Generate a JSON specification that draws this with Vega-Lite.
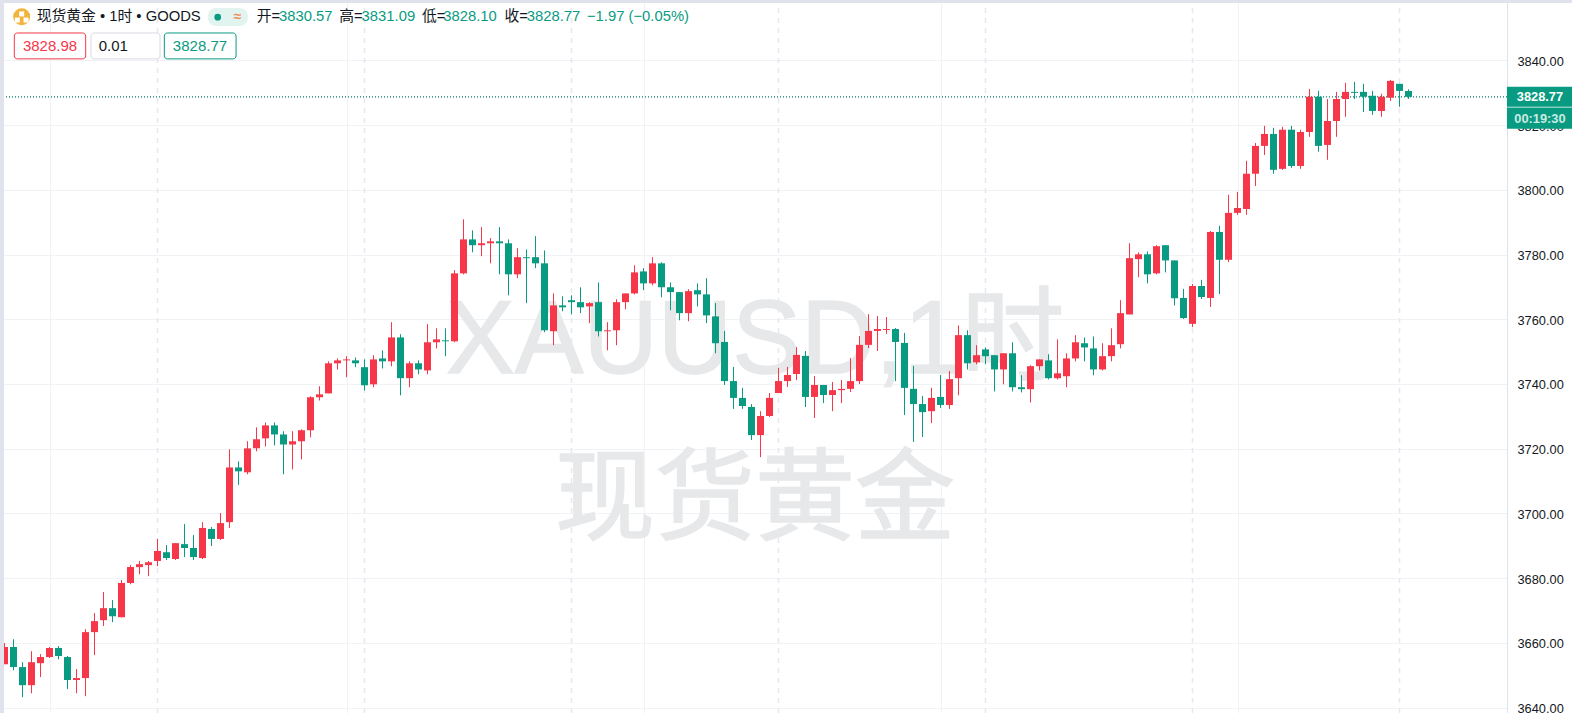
{"$schema":"https://vega.github.io/schema/vega-lite/v6.json","width":1507,"height":713,"autosize":"none","padding":{"left":0,"top":0,"right":65,"bottom":0},"background":"white","config":{"view":{"stroke":null}},
"datasets":{
"candles":[
{"i":0,"o":3653.4,"h":3659.9,"l":3653.4,"c":3658.7,"d":"up"},
{"i":1,"o":3658.7,"h":3661.1,"l":3651.5,"c":3652.5,"d":"down"},
{"i":2,"o":3652.5,"h":3654.0,"l":3643.2,"c":3646.9,"d":"down"},
{"i":3,"o":3646.9,"h":3657.4,"l":3644.4,"c":3654.0,"d":"up"},
{"i":4,"o":3653.7,"h":3656.5,"l":3649.4,"c":3655.6,"d":"up"},
{"i":5,"o":3655.6,"h":3658.7,"l":3655.3,"c":3658.4,"d":"up"},
{"i":6,"o":3658.4,"h":3659.0,"l":3654.9,"c":3655.9,"d":"down"},
{"i":7,"o":3655.6,"h":3655.9,"l":3645.7,"c":3648.5,"d":"down"},
{"i":8,"o":3648.5,"h":3651.9,"l":3644.4,"c":3649.1,"d":"up"},
{"i":9,"o":3649.1,"h":3664.2,"l":3643.5,"c":3663.3,"d":"up"},
{"i":10,"o":3663.3,"h":3669.2,"l":3656.2,"c":3666.7,"d":"up"},
{"i":11,"o":3667.0,"h":3675.7,"l":3665.2,"c":3670.7,"d":"up"},
{"i":12,"o":3670.7,"h":3673.2,"l":3666.4,"c":3668.2,"d":"down"},
{"i":13,"o":3667.9,"h":3679.4,"l":3667.9,"c":3678.5,"d":"up"},
{"i":14,"o":3678.5,"h":3684.0,"l":3678.1,"c":3683.4,"d":"up"},
{"i":15,"o":3683.4,"h":3685.3,"l":3681.2,"c":3684.3,"d":"up"},
{"i":16,"o":3684.0,"h":3685.3,"l":3680.6,"c":3684.9,"d":"up"},
{"i":17,"o":3685.3,"h":3692.1,"l":3683.7,"c":3688.4,"d":"up"},
{"i":18,"o":3688.0,"h":3690.2,"l":3685.6,"c":3686.2,"d":"down"},
{"i":19,"o":3685.9,"h":3690.8,"l":3685.6,"c":3690.8,"d":"up"},
{"i":20,"o":3690.5,"h":3696.7,"l":3686.5,"c":3689.3,"d":"down"},
{"i":21,"o":3689.3,"h":3693.3,"l":3685.6,"c":3686.5,"d":"down"},
{"i":22,"o":3686.2,"h":3697.3,"l":3685.9,"c":3695.5,"d":"up"},
{"i":23,"o":3695.2,"h":3695.8,"l":3689.9,"c":3692.1,"d":"down"},
{"i":24,"o":3692.1,"h":3700.1,"l":3691.8,"c":3697.0,"d":"up"},
{"i":25,"o":3697.3,"h":3719.8,"l":3695.5,"c":3714.2,"d":"up"},
{"i":26,"o":3714.2,"h":3716.1,"l":3708.8,"c":3713.0,"d":"down"},
{"i":27,"o":3712.7,"h":3722.3,"l":3712.1,"c":3720.1,"d":"up"},
{"i":28,"o":3720.1,"h":3726.6,"l":3719.2,"c":3722.9,"d":"up"},
{"i":29,"o":3723.2,"h":3728.1,"l":3720.7,"c":3727.2,"d":"up"},
{"i":30,"o":3727.2,"h":3728.1,"l":3721.0,"c":3724.4,"d":"down"},
{"i":31,"o":3724.4,"h":3725.4,"l":3712.1,"c":3721.3,"d":"down"},
{"i":32,"o":3721.3,"h":3725.4,"l":3713.6,"c":3722.3,"d":"up"},
{"i":33,"o":3722.3,"h":3726.0,"l":3716.7,"c":3725.7,"d":"up"},
{"i":34,"o":3725.7,"h":3736.2,"l":3723.5,"c":3735.9,"d":"up"},
{"i":35,"o":3735.9,"h":3739.3,"l":3734.9,"c":3736.8,"d":"up"},
{"i":36,"o":3737.1,"h":3747.0,"l":3737.1,"c":3746.4,"d":"up"},
{"i":37,"o":3746.4,"h":3747.9,"l":3744.5,"c":3747.3,"d":"up"},
{"i":38,"o":3747.3,"h":3748.6,"l":3742.1,"c":3747.6,"d":"up"},
{"i":39,"o":3747.3,"h":3748.2,"l":3745.2,"c":3746.4,"d":"down"},
{"i":40,"o":3745.2,"h":3747.6,"l":3738.0,"c":3739.6,"d":"down"},
{"i":41,"o":3739.9,"h":3748.9,"l":3739.0,"c":3747.6,"d":"up"},
{"i":42,"o":3747.9,"h":3750.4,"l":3744.8,"c":3747.0,"d":"down"},
{"i":43,"o":3747.0,"h":3759.1,"l":3745.5,"c":3754.4,"d":"up"},
{"i":44,"o":3754.4,"h":3755.4,"l":3736.5,"c":3741.8,"d":"down"},
{"i":45,"o":3741.8,"h":3747.0,"l":3739.0,"c":3746.4,"d":"up"},
{"i":46,"o":3746.4,"h":3747.3,"l":3743.0,"c":3744.5,"d":"down"},
{"i":47,"o":3744.2,"h":3758.5,"l":3743.0,"c":3752.9,"d":"up"},
{"i":48,"o":3752.9,"h":3757.2,"l":3751.0,"c":3753.8,"d":"up"},
{"i":49,"o":3753.5,"h":3757.2,"l":3748.6,"c":3753.2,"d":"down"},
{"i":50,"o":3753.2,"h":3775.2,"l":3752.9,"c":3774.2,"d":"up"},
{"i":51,"o":3774.2,"h":3790.9,"l":3773.9,"c":3784.7,"d":"up"},
{"i":52,"o":3784.7,"h":3787.5,"l":3780.7,"c":3782.9,"d":"down"},
{"i":53,"o":3782.9,"h":3788.5,"l":3779.5,"c":3783.5,"d":"up"},
{"i":54,"o":3783.5,"h":3785.1,"l":3777.3,"c":3784.1,"d":"up"},
{"i":55,"o":3784.1,"h":3788.5,"l":3773.9,"c":3783.5,"d":"down"},
{"i":56,"o":3783.5,"h":3784.7,"l":3767.4,"c":3773.9,"d":"down"},
{"i":57,"o":3773.9,"h":3782.0,"l":3772.7,"c":3779.2,"d":"up"},
{"i":58,"o":3779.2,"h":3781.6,"l":3765.0,"c":3778.9,"d":"down"},
{"i":59,"o":3779.2,"h":3785.7,"l":3775.8,"c":3777.3,"d":"down"},
{"i":60,"o":3777.3,"h":3781.3,"l":3756.0,"c":3756.6,"d":"down"},
{"i":61,"o":3756.3,"h":3768.0,"l":3752.0,"c":3764.3,"d":"up"},
{"i":62,"o":3764.3,"h":3767.1,"l":3762.5,"c":3763.7,"d":"down"},
{"i":63,"o":3765.9,"h":3767.4,"l":3761.5,"c":3765.3,"d":"down"},
{"i":64,"o":3765.3,"h":3769.9,"l":3761.9,"c":3763.7,"d":"down"},
{"i":65,"o":3764.0,"h":3765.3,"l":3758.8,"c":3765.0,"d":"up"},
{"i":66,"o":3765.3,"h":3771.4,"l":3754.7,"c":3756.3,"d":"down"},
{"i":67,"o":3756.3,"h":3759.1,"l":3750.4,"c":3756.6,"d":"up"},
{"i":68,"o":3756.6,"h":3766.2,"l":3752.0,"c":3765.3,"d":"up"},
{"i":69,"o":3765.3,"h":3768.0,"l":3763.1,"c":3768.0,"d":"up"},
{"i":70,"o":3768.0,"h":3776.7,"l":3767.7,"c":3774.5,"d":"up"},
{"i":71,"o":3774.8,"h":3775.8,"l":3769.0,"c":3771.1,"d":"down"},
{"i":72,"o":3771.1,"h":3779.2,"l":3770.5,"c":3777.3,"d":"up"},
{"i":73,"o":3777.3,"h":3777.6,"l":3766.8,"c":3769.9,"d":"down"},
{"i":74,"o":3769.9,"h":3771.4,"l":3762.8,"c":3768.4,"d":"down"},
{"i":75,"o":3768.4,"h":3768.4,"l":3759.7,"c":3761.9,"d":"down"},
{"i":76,"o":3761.9,"h":3769.3,"l":3759.4,"c":3768.7,"d":"up"},
{"i":77,"o":3769.0,"h":3771.1,"l":3764.0,"c":3767.7,"d":"down"},
{"i":78,"o":3767.7,"h":3772.7,"l":3758.8,"c":3761.2,"d":"down"},
{"i":79,"o":3760.9,"h":3765.0,"l":3749.5,"c":3752.6,"d":"down"},
{"i":80,"o":3753.0,"h":3756.4,"l":3739.7,"c":3740.9,"d":"down"},
{"i":81,"o":3740.9,"h":3745.3,"l":3732.3,"c":3735.7,"d":"down"},
{"i":82,"o":3735.7,"h":3738.8,"l":3732.3,"c":3733.2,"d":"down"},
{"i":83,"o":3732.9,"h":3733.8,"l":3722.7,"c":3724.2,"d":"down"},
{"i":84,"o":3724.2,"h":3731.6,"l":3717.4,"c":3730.1,"d":"up"},
{"i":85,"o":3730.1,"h":3737.2,"l":3729.8,"c":3735.7,"d":"up"},
{"i":86,"o":3737.2,"h":3745.0,"l":3737.2,"c":3740.9,"d":"up"},
{"i":87,"o":3740.9,"h":3745.3,"l":3739.1,"c":3742.8,"d":"up"},
{"i":88,"o":3743.1,"h":3751.4,"l":3741.2,"c":3749.0,"d":"up"},
{"i":89,"o":3748.7,"h":3750.2,"l":3732.9,"c":3736.0,"d":"down"},
{"i":90,"o":3736.0,"h":3742.5,"l":3729.5,"c":3739.7,"d":"up"},
{"i":91,"o":3739.7,"h":3739.7,"l":3734.1,"c":3736.6,"d":"down"},
{"i":92,"o":3736.6,"h":3740.6,"l":3731.6,"c":3738.1,"d":"up"},
{"i":93,"o":3738.1,"h":3741.2,"l":3734.1,"c":3738.5,"d":"up"},
{"i":94,"o":3738.5,"h":3748.0,"l":3737.5,"c":3740.9,"d":"up"},
{"i":95,"o":3740.9,"h":3754.8,"l":3740.0,"c":3752.1,"d":"up"},
{"i":96,"o":3752.1,"h":3761.6,"l":3751.1,"c":3756.4,"d":"up"},
{"i":97,"o":3756.4,"h":3761.0,"l":3750.2,"c":3757.0,"d":"up"},
{"i":98,"o":3756.7,"h":3760.7,"l":3755.5,"c":3757.0,"d":"up"},
{"i":99,"o":3757.0,"h":3757.3,"l":3740.9,"c":3753.0,"d":"down"},
{"i":100,"o":3752.7,"h":3755.8,"l":3730.4,"c":3738.8,"d":"down"},
{"i":101,"o":3738.5,"h":3745.6,"l":3722.1,"c":3733.8,"d":"down"},
{"i":102,"o":3733.8,"h":3736.3,"l":3723.6,"c":3731.3,"d":"down"},
{"i":103,"o":3731.6,"h":3738.8,"l":3727.9,"c":3735.7,"d":"up"},
{"i":104,"o":3736.0,"h":3742.8,"l":3732.6,"c":3733.5,"d":"down"},
{"i":105,"o":3733.5,"h":3744.0,"l":3732.3,"c":3741.5,"d":"up"},
{"i":106,"o":3741.8,"h":3758.1,"l":3736.5,"c":3755.1,"d":"up"},
{"i":107,"o":3755.1,"h":3756.6,"l":3744.5,"c":3746.4,"d":"down"},
{"i":108,"o":3746.7,"h":3752.0,"l":3746.1,"c":3748.9,"d":"up"},
{"i":109,"o":3750.7,"h":3751.3,"l":3746.1,"c":3748.6,"d":"down"},
{"i":110,"o":3748.9,"h":3748.9,"l":3737.7,"c":3744.5,"d":"down"},
{"i":111,"o":3744.5,"h":3749.5,"l":3739.9,"c":3749.5,"d":"up"},
{"i":112,"o":3749.5,"h":3752.9,"l":3737.7,"c":3739.0,"d":"down"},
{"i":113,"o":3739.0,"h":3742.7,"l":3737.4,"c":3738.4,"d":"down"},
{"i":114,"o":3738.4,"h":3745.8,"l":3734.3,"c":3745.5,"d":"up"},
{"i":115,"o":3745.5,"h":3747.6,"l":3744.2,"c":3747.6,"d":"up"},
{"i":116,"o":3747.3,"h":3749.2,"l":3741.4,"c":3741.8,"d":"down"},
{"i":117,"o":3741.8,"h":3753.8,"l":3741.4,"c":3743.3,"d":"up"},
{"i":118,"o":3742.4,"h":3749.5,"l":3739.0,"c":3747.9,"d":"up"},
{"i":119,"o":3747.9,"h":3755.1,"l":3747.0,"c":3752.9,"d":"up"},
{"i":120,"o":3752.6,"h":3754.4,"l":3747.0,"c":3751.3,"d":"down"},
{"i":121,"o":3751.0,"h":3754.7,"l":3742.7,"c":3744.5,"d":"down"},
{"i":122,"o":3744.5,"h":3752.6,"l":3744.2,"c":3748.6,"d":"up"},
{"i":123,"o":3748.6,"h":3757.2,"l":3747.0,"c":3752.0,"d":"up"},
{"i":124,"o":3752.3,"h":3765.9,"l":3751.0,"c":3761.9,"d":"up"},
{"i":125,"o":3761.5,"h":3783.5,"l":3761.5,"c":3778.9,"d":"up"},
{"i":126,"o":3778.6,"h":3780.7,"l":3773.0,"c":3780.1,"d":"up"},
{"i":127,"o":3780.1,"h":3781.0,"l":3771.1,"c":3773.9,"d":"down"},
{"i":128,"o":3774.2,"h":3782.9,"l":3773.9,"c":3782.6,"d":"up"},
{"i":129,"o":3782.9,"h":3782.9,"l":3774.5,"c":3778.2,"d":"down"},
{"i":130,"o":3778.2,"h":3778.2,"l":3764.3,"c":3766.5,"d":"down"},
{"i":131,"o":3766.6,"h":3769.4,"l":3760.1,"c":3760.4,"d":"down"},
{"i":132,"o":3758.6,"h":3770.9,"l":3757.6,"c":3770.3,"d":"up"},
{"i":133,"o":3770.3,"h":3772.2,"l":3766.3,"c":3766.9,"d":"down"},
{"i":134,"o":3766.6,"h":3787.3,"l":3763.8,"c":3787.0,"d":"up"},
{"i":135,"o":3787.0,"h":3788.9,"l":3767.8,"c":3778.4,"d":"down"},
{"i":136,"o":3778.4,"h":3798.5,"l":3777.7,"c":3792.9,"d":"up"},
{"i":137,"o":3792.9,"h":3799.4,"l":3792.3,"c":3794.4,"d":"up"},
{"i":138,"o":3794.1,"h":3809.0,"l":3792.3,"c":3805.0,"d":"up"},
{"i":139,"o":3805.0,"h":3814.5,"l":3801.2,"c":3813.6,"d":"up"},
{"i":140,"o":3813.6,"h":3819.8,"l":3810.8,"c":3817.3,"d":"up"},
{"i":141,"o":3817.3,"h":3819.2,"l":3805.0,"c":3806.2,"d":"down"},
{"i":142,"o":3806.5,"h":3819.5,"l":3806.2,"c":3818.6,"d":"up"},
{"i":143,"o":3818.6,"h":3819.8,"l":3806.8,"c":3807.4,"d":"down"},
{"i":144,"o":3807.4,"h":3818.6,"l":3806.5,"c":3817.9,"d":"up"},
{"i":145,"o":3817.9,"h":3831.2,"l":3816.4,"c":3828.8,"d":"up"},
{"i":146,"o":3828.8,"h":3830.6,"l":3811.8,"c":3813.6,"d":"down"},
{"i":147,"o":3813.9,"h":3828.1,"l":3809.3,"c":3821.3,"d":"up"},
{"i":148,"o":3821.3,"h":3830.3,"l":3816.4,"c":3828.1,"d":"up"},
{"i":149,"o":3828.1,"h":3833.1,"l":3822.6,"c":3830.3,"d":"up"},
{"i":150,"o":3830.3,"h":3833.4,"l":3828.1,"c":3830.0,"d":"down"},
{"i":151,"o":3830.3,"h":3832.8,"l":3824.1,"c":3828.8,"d":"down"},
{"i":152,"o":3829.1,"h":3830.6,"l":3823.2,"c":3824.4,"d":"down"},
{"i":153,"o":3824.4,"h":3829.7,"l":3822.6,"c":3828.8,"d":"up"},
{"i":154,"o":3828.5,"h":3834.0,"l":3827.5,"c":3833.7,"d":"up"},
{"i":155,"o":3832.8,"h":3832.8,"l":3825.7,"c":3830.6,"d":"down"},
{"i":156,"o":3830.57,"h":3831.09,"l":3828.10,"c":3828.77,"d":"down"}
],
"session":[{"i":17},{"i":40},{"i":63},{"i":86},{"i":109},{"i":132},{"i":155}],
"last":[{"p":3828.77}],
"watermark":[{"i":83.4,"p":3753.0,"t":"XAUUSD,1时"}],
"watermark2":[{"i":83.4,"p":3703.5,"t":"现货黄金"}],
"header":[
{"i":3.57,"p":3853.4,"t":"现货黄金 • 1时 • GOODS","r":"ink"},
{"i":28.02,"p":3853.4,"t":"开=","r":"ink"},{"i":30.5,"p":3853.4,"t":"3830.57","r":"down"},
{"i":37.2,"p":3853.4,"t":"高=","r":"ink"},{"i":39.68,"p":3853.4,"t":"3831.09","r":"down"},
{"i":46.38,"p":3853.4,"t":"低=","r":"ink"},{"i":48.75,"p":3853.4,"t":"3828.10","r":"down"},
{"i":55.56,"p":3853.4,"t":"收=","r":"ink"},{"i":58.03,"p":3853.4,"t":"3828.77","r":"down"},
{"i":64.72,"p":3853.4,"t":"−1.97 (−0.05%)","r":"down"}
],
"boxes":[
{"a":1.09,"b":9.02,"hi":3848.5,"lo":3840.5,"r":"up"},
{"a":9.61,"b":17.28,"hi":3848.5,"lo":3840.5,"r":"muted"},
{"a":17.76,"b":25.73,"hi":3848.5,"lo":3840.5,"r":"down"}
],
"boxText":[
{"i":5.06,"p":3844.4,"t":"3828.98","r":"up"},
{"i":12.09,"p":3844.4,"t":"0.01","r":"ink"},
{"i":21.72,"p":3844.4,"t":"3828.77","r":"down"}
],
"pill":[{"a":22.61,"b":27.03,"hi":3856.2,"lo":3850.7}],
"dots":[{"i":23.69,"p":3853.4,"r":"down"}],
"icon":[{"i":1.91,"p":3853.5}],
"iconBars":[{"i":1.42,"p":3852.5},{"i":2.39,"p":3852.5},{"i":1.91,"p":3854.4}],
"approx":[{"i":25.91,"p":3853.4,"t":"≈"}],
"tag":[{"a":166.94,"b":174.2,"hi":3831.9,"lo":3825.7},{"a":166.94,"b":174.2,"hi":3825.5,"lo":3818.9}],
"band":[{"a":166.94,"b":174.2,"hi":3859.0,"lo":3857.8}],
"tagText":[{"i":170.6,"p":3828.7,"t":"3828.77","r":"white"},{"i":170.6,"p":3822.0,"t":"00:19:30","r":"faint"}]
},
"layer":[
{"data":{"name":"session"},"mark":{"type":"rule","stroke":"#e6e8ef","strokeDash":[5,5],"strokeWidth":1.5},
"encoding":{
"x":{"field":"i","type":"quantitative","scale":{"domain":[-0.5,166.944],"nice":false,"zero":false,"padding":0},"axis":{"orient":"bottom","values":[5,38,71,104,137],"grid":true,"gridColor":"#f1f2f6","gridWidth":1,"labels":false,"ticks":false,"domain":false,"title":null}},
"y":{"datum":3638.3,"type":"quantitative","scale":{"domain":[3638.3,3858.7],"nice":false,"zero":false},"axis":{"orient":"right","values":[3640,3660,3680,3700,3720,3740,3760,3780,3800,3820,3840],"format":".2f","grid":true,"gridColor":"#f1f2f6","gridWidth":1,"ticks":false,"domain":true,"domainColor":"#e0e3eb","domainWidth":1,"labelFont":"Liberation Sans","labelFontSize":12.8,"labelColor":"#131722","labelPadding":10,"labelOffset":1,"title":null}},
"y2":{"datum":3858.7}}},
{"data":{"name":"watermark"},"mark":{"type":"text","font":"Liberation Sans, Noto Sans CJK SC","fontSize":103,"align":"center","baseline":"middle","fill":"#e7e8ea","stroke":"#e7e8ea","strokeWidth":1.5},
"encoding":{"x":{"field":"i","type":"quantitative","axis":{"orient":"top","labels":false,"ticks":false,"grid":false,"title":null,"domain":true,"domainColor":"#e0e3eb","domainWidth":5,"zindex":1}},"y":{"field":"p","type":"quantitative","axis":{"orient":"left","labels":false,"ticks":false,"grid":false,"title":null,"domain":true,"domainColor":"#e0e3eb","domainWidth":7,"zindex":1}},"text":{"field":"t"}}},
{"data":{"name":"watermark2"},"mark":{"type":"text","font":"Liberation Sans, Noto Sans CJK SC","fontSize":100,"align":"center","baseline":"middle","fill":"#e7e8ea","stroke":"#e7e8ea","strokeWidth":1.5},
"encoding":{"x":{"field":"i","type":"quantitative","axis":null},"y":{"field":"p","type":"quantitative","axis":null},"text":{"field":"t"}}},
{"data":{"name":"last"},"mark":{"type":"rule","stroke":"#067a66","strokeDash":[1,2],"strokeWidth":1.3},"encoding":{"y":{"field":"p","type":"quantitative","axis":null}}},
{"data":{"name":"candles"},"mark":{"type":"rule","strokeWidth":1},"encoding":{"x":{"field":"i","type":"quantitative","axis":null},"y":{"field":"l","type":"quantitative","axis":null},"y2":{"field":"h"},"color":{"field":"d","type":"nominal","legend":null,"scale":{"domain":["up","down","ink","muted","white","faint"],"range":["#f63649","#099b81","#131722","#d9dae3","#ffffff","#c9ebe3"]}}}},
{"data":{"name":"candles"},"mark":{"type":"bar","size":7},"encoding":{"x":{"field":"i","type":"quantitative","axis":null},"y":{"field":"o","type":"quantitative","axis":null},"y2":{"field":"c"},"color":{"field":"d","type":"nominal","legend":null}}},
{"data":{"name":"band"},"mark":{"type":"rect","fill":"#e0e3eb"},"encoding":{"x":{"field":"a","type":"quantitative","axis":null},"x2":{"field":"b"},"y":{"field":"lo","type":"quantitative","axis":null},"y2":{"field":"hi"}}},
{"data":{"name":"tag"},"mark":{"type":"rect","fill":"#099b81"},"encoding":{"x":{"field":"a","type":"quantitative","axis":null},"x2":{"field":"b"},"y":{"field":"lo","type":"quantitative","axis":null},"y2":{"field":"hi"}}},
{"data":{"name":"tagText"},"mark":{"type":"text","font":"Liberation Sans","fontSize":12.8,"fontWeight":"bold","align":"center","baseline":"middle"},"encoding":{"x":{"field":"i","type":"quantitative","axis":null},"y":{"field":"p","type":"quantitative","axis":null},"text":{"field":"t"},"color":{"field":"r","type":"nominal","legend":null}}},
{"data":{"name":"boxes"},"mark":{"type":"rect","fill":"#ffffff","cornerRadius":3,"strokeWidth":1},"encoding":{"x":{"field":"a","type":"quantitative","axis":null},"x2":{"field":"b"},"y":{"field":"lo","type":"quantitative","axis":null},"y2":{"field":"hi"},"stroke":{"field":"r","type":"nominal","legend":null,"scale":{"domain":["up","down","ink","muted","white","faint"],"range":["#f63649","#099b81","#131722","#d9dae3","#ffffff","#c9ebe3"]}}}},
{"data":{"name":"boxText"},"mark":{"type":"text","font":"Liberation Sans","fontSize":15,"align":"center","baseline":"middle"},"encoding":{"x":{"field":"i","type":"quantitative","axis":null},"y":{"field":"p","type":"quantitative","axis":null},"text":{"field":"t"},"color":{"field":"r","type":"nominal","legend":null}}},
{"data":{"name":"header"},"mark":{"type":"text","font":"Liberation Sans, Noto Sans CJK SC","fontSize":14.8,"align":"left","baseline":"middle"},"encoding":{"x":{"field":"i","type":"quantitative","axis":null},"y":{"field":"p","type":"quantitative","axis":null},"text":{"field":"t"},"color":{"field":"r","type":"nominal","legend":null}}},
{"data":{"name":"pill"},"mark":{"type":"rect","fill":"#e1f4f0","cornerRadius":8},"encoding":{"x":{"field":"a","type":"quantitative","axis":null},"x2":{"field":"b"},"y":{"field":"lo","type":"quantitative","axis":null},"y2":{"field":"hi"}}},
{"data":{"name":"dots"},"mark":{"type":"point","filled":true,"size":45,"opacity":1,"shape":"circle"},"encoding":{"x":{"field":"i","type":"quantitative","axis":null},"y":{"field":"p","type":"quantitative","axis":null},"color":{"field":"r","type":"nominal","legend":null}}},
{"data":{"name":"approx"},"mark":{"type":"text","font":"Liberation Sans","fontSize":14,"fontWeight":"bold","align":"center","baseline":"middle","fill":"#f58a5a"},"encoding":{"x":{"field":"i","type":"quantitative","axis":null},"y":{"field":"p","type":"quantitative","axis":null},"text":{"field":"t"}}},
{"data":{"name":"icon"},"mark":{"type":"point","filled":true,"size":290,"opacity":1,"shape":"circle","fill":"#f1b43c"},"encoding":{"x":{"field":"i","type":"quantitative","axis":null},"y":{"field":"p","type":"quantitative","axis":null}}},
{"data":{"name":"iconBars"},"mark":{"type":"point","filled":true,"size":25,"opacity":1,"shape":"square","fill":"#ffffff"},"encoding":{"x":{"field":"i","type":"quantitative","axis":null},"y":{"field":"p","type":"quantitative","axis":null}}}
],
"resolve":{"axis":{"x":"independent","y":"independent"}}
}
